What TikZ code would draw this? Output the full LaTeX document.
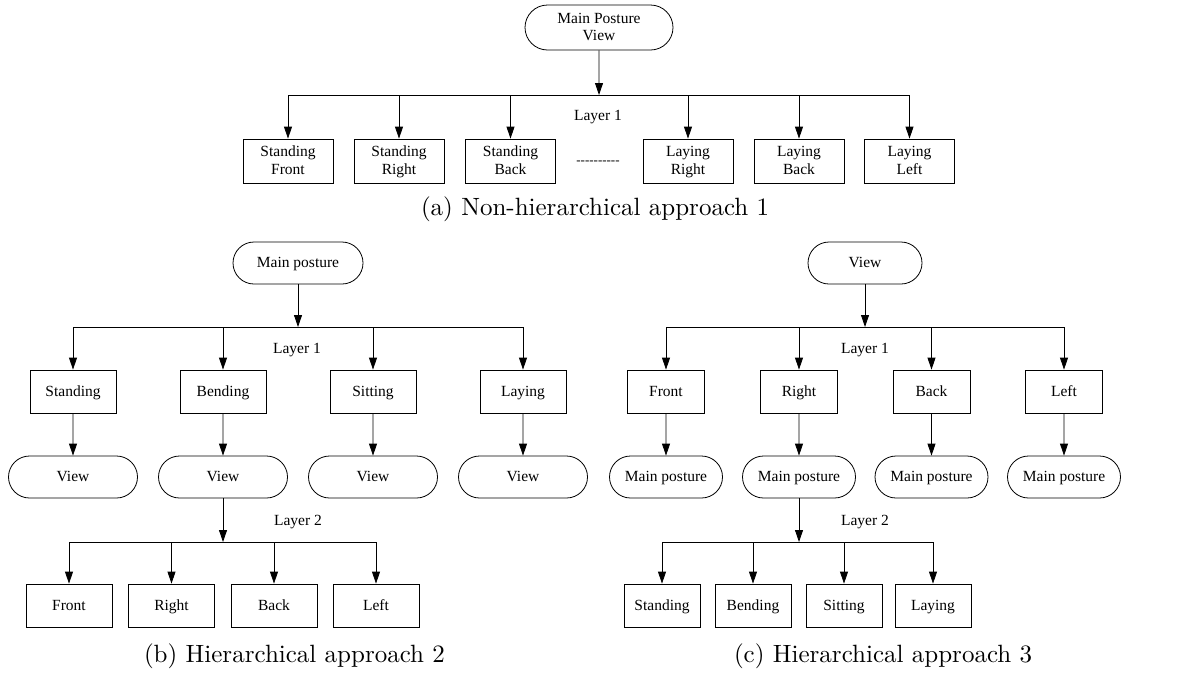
\documentclass[tikz,border=0pt]{standalone}
\usepackage{fontspec}
\newfontfamily\boxfont{Liberation Serif}
\usepackage{tikz}
\usetikzlibrary{arrows.meta, positioning, shapes.misc}

\begin{document}
\begin{tikzpicture}[
      x=1pt, y=-1pt,
      line width=0.8pt,
      every node/.style={font=\boxfont\fontsize{15.5}{17.5}\selectfont, inner sep=0pt, align=center},
      leaf/.style={draw, rectangle, minimum height=43pt, text height=11pt, text depth=2pt},
      twoline/.style={text height=28.5pt, text depth=2pt},
      pill/.style={draw, rounded rectangle, minimum height=42pt, text height=11pt, text depth=2pt},
      arr/.style={-{Triangle[length=12pt, width=8pt]}},
      caption/.style={font=\fontsize{10}{12}\selectfont, scale=2.5, anchor=west}
    ]
      \useasboundingbox (0,0) rectangle (1190,673);

      % (a) one layer
      \node[pill, twoline, minimum width=148pt, minimum height=45pt] (aTop) at (599,27.5) {Main Posture\\View};
      \coordinate (aBar) at (599,95);
      \foreach \x/\name/\lbl in {288/aSF/{Standing\\Front}, 399/aSR/{Standing\\Right}, 510.5/aSB/{Standing\\Back},
                                 688/aLR/{Laying\\Right}, 799/aLB/{Laying\\Back}, 909.5/aLL/{Laying\\Left}}{
        \node[leaf, twoline, minimum width=90pt, minimum height=44pt] (\name) at (\x,161) {\lbl};
        \draw[arr] (\name |- aBar) -- (\name);
      }
      \node[font=\boxfont\fontsize{13}{15}\selectfont] (aDots) at (598,163) {-{}-{}-{}-{}-{}-{}-{}-{}-{}-};
      \draw[arr] (aTop) -- (aBar);
      \draw (aSF |- aBar) -- (aLL |- aBar);
      \node (aLayer) at (598,117) {Layer 1};
      \node[caption] (aCap) at (420,209) {(a) Non-hierarchical approach 1};

      % (b) posture first
      \node[pill, minimum width=130pt] (bTop) at (298,263) {Main posture};
      \coordinate (bBar) at (298,327);
      \foreach \x/\name/\sub/\lbl in {73/bSt/bStV/Standing, 223/bBe/bBeV/Bending, 373/bSi/bSiV/Sitting, 523/bLa/bLaV/Laying}{
        \node[leaf, minimum width=86pt] (\name) at (\x,391.5) {\lbl};
        \node[pill, minimum width=129pt] (\sub) at (\x,477) {View};
        \draw[arr] (\name |- bBar) -- (\name);
        \draw[arr] (\name) -- (\sub);
      }
      \draw[arr] (bTop) -- (bBar);
      \draw (bSt |- bBar) -- (bLa |- bBar);
      \node (bLayer1) at (297,350) {Layer 1};

      \coordinate (bBar2) at (223,542);
      \foreach \x/\name/\lbl in {69/bFr/Front, 171.5/bRi/Right, 274/bBa/Back, 376/bLe/Left}{
        \node[leaf, minimum width=86pt] (\name) at (\x,605.5) {\lbl};
        \draw[arr] (\name |- bBar2) -- (\name);
      }
      \draw[arr] (bBeV) -- (bBar2);
      \draw (bFr |- bBar2) -- (bLe |- bBar2);
      \node (bLayer2) at (298,522) {Layer 2};
      \node[caption] (bCap) at (143,656) {(b) Hierarchical approach 2};

      % (c) view first
      \node[pill, minimum width=114pt] (cTop) at (865,263) {View};
      \coordinate (cBar) at (865,327);
      \foreach \x/\name/\sub/\lbl in {666/cFr/cFrP/Front, 799/cRi/cRiP/Right, 931.5/cBa/cBaP/Back, 1064/cLe/cLeP/Left}{
        \node[leaf, minimum width=77pt] (\name) at (\x,391.5) {\lbl};
        \node[pill, minimum width=113pt] (\sub) at (\x,477) {Main posture};
        \draw[arr] (\name |- cBar) -- (\name);
        \draw[arr] (\name) -- (\sub);
      }
      \draw[arr] (cTop) -- (cBar);
      \draw (cFr |- cBar) -- (cLe |- cBar);
      \node (cLayer1) at (865,350) {Layer 1};

      \coordinate (cBar2) at (799,542);
      \foreach \x/\name/\lbl in {662/cSt/Standing, 753/cBe/Bending, 844/cSi/Sitting, 933/cLa/Laying}{
        \node[leaf, minimum width=76pt] (\name) at (\x,605.5) {\lbl};
        \draw[arr] (\name |- cBar2) -- (\name);
      }
      \draw[arr] (cRiP) -- (cBar2);
      \draw (cSt |- cBar2) -- (cLa |- cBar2);
      \node (cLayer2) at (865,522) {Layer 2};
      \node[caption] (cCap) at (733,656) {(c) Hierarchical approach 3};
    \end{tikzpicture}
\end{document}
